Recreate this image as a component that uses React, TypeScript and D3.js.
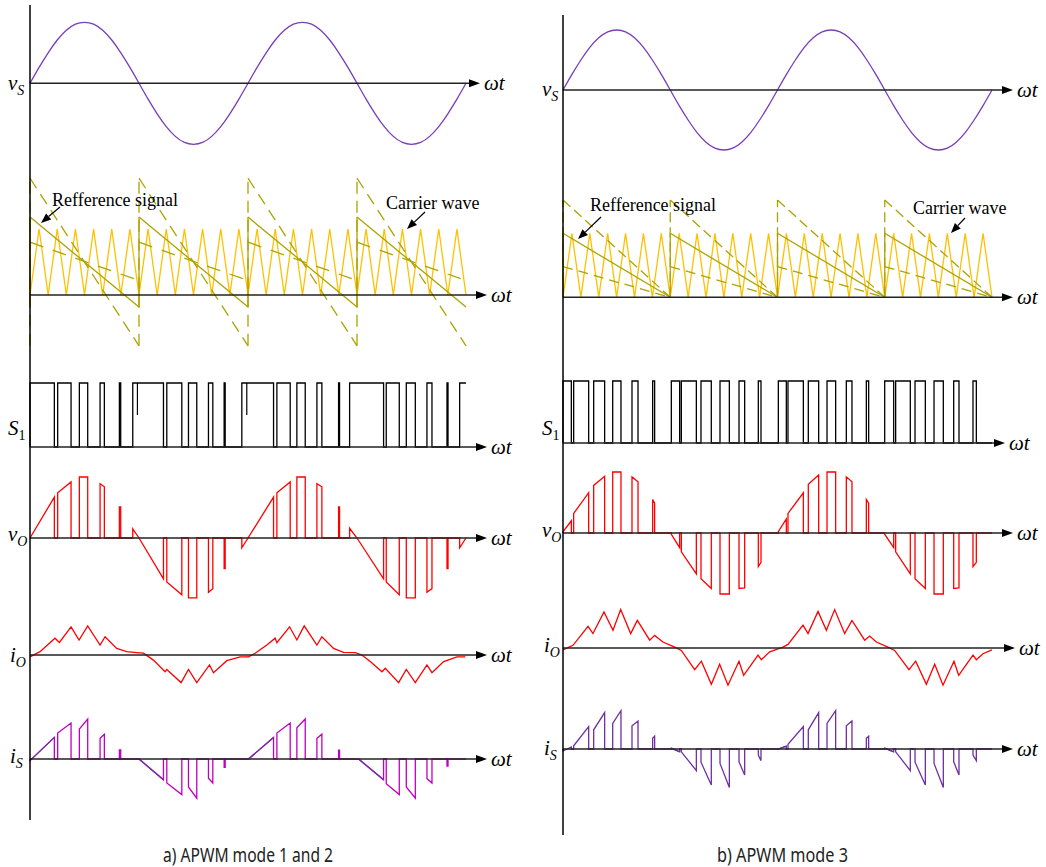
import React from "react";
import * as d3 from "d3";

const W = 1046;
const H = 867;
const T_END = 720;

// ωt in degrees (two fundamental cycles), sampled every 15°
const sampleDeg = [0, 15, 30, 45, 60, 75, 90, 105, 120, 135, 150, 165, 180, 195, 210, 225, 240, 255, 270, 285, 300, 315, 330, 345, 360, 375, 390, 405, 420, 435, 450, 465, 480, 495, 510, 525, 540, 555, 570, 585, 600, 615, 630, 645, 660, 675, 690, 705, 720];
const vsValues = [0, 0.26, 0.5, 0.71, 0.87, 0.97, 1, 0.97, 0.87, 0.71, 0.5, 0.26, 0, -0.26, -0.5, -0.71, -0.87, -0.97, -1, -0.97, -0.87, -0.71, -0.5, -0.26, 0, 0.26, 0.5, 0.71, 0.87, 0.97, 1, 0.97, 0.87, 0.71, 0.5, 0.26, 0, -0.26, -0.5, -0.71, -0.87, -0.97, -1, -0.97, -0.87, -0.71, -0.5, -0.26, 0];
const carrierValues = [0, 1, 0, 1, 0, 1, 0, 1, 0, 1, 0, 1, 0, 1, 0, 1, 0, 1, 0, 1, 0, 1, 0, 1, 0, 1, 0, 1, 0, 1, 0, 1, 0, 1, 0, 1, 0, 1, 0, 1, 0, 1, 0, 1, 0, 1, 0, 1, 0];

// reference ramps, one per half cycle
const halfStarts = [0, 180, 360, 540];
const leftRefStart = [1.77, 1.18, 0.8];
const leftRefEnd = [-0.77, -0.18, 0.22];
const rightRefStart = [1.52, 1.0, 0.48];
const rightRefEnd = [0, 0, 0];

// switching intervals of S1 [on, off] in degrees
const leftS1 = [[0, 40.2], [45.7, 67.8], [81.5, 95.3], [115.7, 122.8], [147.6, 149.8], [169.7, 220.4], [225.9, 250.7], [261.7, 275.4], [294.7, 301.9], [320.6, 322.3], [349.8, 402.2], [407.7, 429.7], [440.7, 454.5], [473.8, 482.0], [509.6, 511.2], [527.8, 583.9], [588.3, 609.8], [621.4, 636.3], [655.5, 663.8], [688.6, 690.3], [709.5, 720]];
const leftS1Notches = [177.4, 358];
const rightS1 = [[0, 14.0], [17.9, 43.1], [51.5, 69.9], [83.4, 97.3], [115.8, 125.9], [150.5, 153.8], [181.8, 195.8], [198.6, 223.8], [231.6, 248.9], [263.5, 279.2], [295.4, 304.9], [327.8, 332.3], [361.4, 374.8], [377.6, 403.4], [411.7, 429.1], [443.1, 457.6], [475.5, 485.0], [509.1, 513.0], [539.9, 555.0], [558.3, 582.9], [590.8, 608.1], [622.7, 638.3], [655.7, 664.6], [688.1, 693.7]];

// output voltage pulses [t0, t1, v0, v1]
const leftVo = [[0, 40.2, 0, 0.67], [45.7, 67.8, 0.74, 0.92], [81.5, 95.3, 1.0, 1.0], [115.7, 122.8, 0.89, 0.84], [147.6, 149.8, 0.51, 0.51], [169.7, 180, 0.15, 0], [180, 220.4, 0, -0.67], [225.9, 250.7, -0.72, -0.93], [261.7, 275.4, -0.98, -0.98], [294.7, 301.9, -0.89, -0.83], [320.6, 322.3, -0.5, -0.5], [349.8, 360, -0.16, 0], [360, 402.2, 0, 0.67], [407.7, 429.7, 0.74, 0.92], [440.7, 454.5, 1.0, 1.0], [473.8, 482.0, 0.89, 0.84], [509.6, 511.2, 0.51, 0.51], [527.8, 540, 0.16, 0], [540, 583.9, 0, -0.67], [588.3, 609.8, -0.72, -0.93], [621.4, 636.3, -0.98, -0.98], [655.5, 663.8, -0.89, -0.83], [688.6, 690.3, -0.5, -0.5], [709.5, 720, -0.16, 0]];
const rightVo = [[0, 14.0, 0.02, 0.2], [17.9, 43.1, 0.32, 0.66], [51.5, 69.9, 0.78, 0.93], [83.4, 97.3, 1.0, 1.0], [115.8, 125.9, 0.92, 0.84], [150.5, 153.8, 0.55, 0.49], [181.8, 195.8, -0.02, -0.24], [198.6, 223.8, -0.31, -0.67], [231.6, 248.9, -0.75, -0.91], [263.5, 279.2, -1.0, -1.0], [295.4, 304.9, -0.91, -0.9], [327.8, 332.3, -0.55, -0.48], [361.4, 374.8, 0.02, 0.23], [377.6, 403.4, 0.32, 0.66], [411.7, 429.1, 0.8, 0.95], [443.1, 457.6, 1.0, 1.0], [475.5, 485.0, 0.92, 0.84], [509.1, 513.0, 0.55, 0.49], [539.9, 555.0, -0.02, -0.24], [558.3, 582.9, -0.31, -0.67], [590.8, 608.1, -0.75, -0.91], [622.7, 638.3, -1.0, -1.0], [655.7, 664.6, -0.91, -0.9], [688.1, 693.7, -0.55, -0.48]];

// output current [deg, value]
const leftIo = [[0, -0.06], [16.5, 0.11], [41.3, 0.56], [48.5, 0.42], [67.8, 0.94], [81.0, 0.5], [95.3, 0.97], [115.7, 0.33], [124.0, 0.61], [143.2, 0.22], [159.8, 0.11], [176.3, 0.08], [187.3, 0.06], [203.8, -0.17], [223.1, -0.56], [225.9, -0.48], [249.5, -0.92], [261.7, -0.48], [275.4, -0.92], [296.4, -0.33], [303.0, -0.59], [325.0, -0.19], [347.1, -0.06], [360.8, -0.06], [371.8, 0.06], [391.1, 0.33], [404.9, 0.56], [407.7, 0.41], [428.6, 0.94], [440.7, 0.5], [452.8, 0.97], [473.8, 0.33], [482.0, 0.61], [501.3, 0.22], [517.8, 0.09], [537.1, 0.08], [548.1, 0], [561.9, -0.22], [581.2, -0.56], [586.7, -0.44], [608.7, -0.92], [621.4, -0.48], [636.3, -0.92], [655.5, -0.33], [663.8, -0.59], [683.1, -0.22], [705.1, -0.06], [718.9, -0.06]];
const rightIo = [[0, -0.06], [16.8, 0.09], [42.0, 0.72], [50.3, 0.48], [68.8, 1.2], [83.9, 0.59], [96.8, 1.28], [113.6, 0.48], [124.8, 0.92], [145.5, 0.26], [153.8, 0.42], [167.8, 0.2], [187.4, 0.03], [198.6, -0.08], [221.0, -0.72], [232.2, -0.44], [249.0, -1.21], [262.9, -0.54], [276.9, -1.24], [295.4, -0.44], [303.2, -0.91], [327.3, -0.24], [332.9, -0.39], [346.9, -0.13], [369.2, 0.03], [377.6, 0.12], [402.8, 0.76], [411.2, 0.48], [428.0, 1.22], [442.0, 0.59], [455.9, 1.28], [472.7, 0.48], [485.0, 0.92], [506.3, 0.26], [514.7, 0.4], [525.9, 0.2], [545.5, 0.03], [556.6, -0.08], [580.7, -0.72], [591.9, -0.44], [609.8, -1.21], [623.8, -0.54], [637.8, -1.24], [656.2, -0.44], [664.1, -0.91], [688.1, -0.24], [693.7, -0.39], [704.9, -0.19], [720, -0.06]];

// source current pulses [t0, t1, v0, v1]
const leftIs = [[0, 40.2, -0.04, 0.54], [45.7, 67.8, 0.65, 0.9], [81.5, 95.3, 0.75, 1.0], [115.7, 122.8, 0.52, 0.62], [147.6, 149.8, 0.23, 0.23], [180, 220.4, 0, -0.52], [225.9, 250.7, -0.6, -0.89], [261.7, 275.4, -0.7, -0.98], [294.7, 301.9, -0.48, -0.6], [320.6, 322.3, -0.21, -0.21], [360.8, 402.2, 0, 0.54], [407.7, 429.7, 0.65, 0.9], [440.7, 454.5, 0.78, 1.0], [473.8, 482.0, 0.52, 0.62], [509.6, 511.2, 0.22, 0.22], [542.6, 583.9, 0, -0.52], [588.3, 609.8, -0.62, -0.89], [621.4, 636.3, -0.7, -0.98], [655.5, 663.8, -0.49, -0.6], [688.6, 690.3, -0.18, -0.18]];
const rightIs = [[0, 14.0, -0.05, 0.05], [17.9, 43.1, 0.08, 0.56], [51.5, 69.9, 0.48, 0.91], [83.4, 97.3, 0.64, 0.96], [115.8, 125.9, 0.58, 0.7], [150.5, 153.8, 0.27, 0.32], [181.8, 195.8, 0.02, -0.07], [198.6, 223.8, -0.07, -0.54], [231.6, 248.9, -0.33, -0.9], [263.5, 279.2, -0.36, -0.96], [295.4, 304.9, -0.32, -0.65], [327.8, 332.3, -0.15, -0.29], [361.4, 374.8, 0, 0.07], [377.6, 403.4, 0.12, 0.56], [411.7, 429.1, 0.48, 0.91], [443.1, 457.6, 0.64, 0.96], [475.5, 485.0, 0.58, 0.7], [509.1, 513.0, 0.27, 0.32], [539.9, 555.0, 0.02, -0.07], [558.3, 582.9, -0.07, -0.54], [590.8, 608.1, -0.33, -0.9], [622.7, 638.3, -0.36, -0.96], [655.7, 664.6, -0.32, -0.65], [688.1, 693.7, -0.15, -0.29]];

const serif = "'Liberation Serif', 'Times New Roman', serif";

function pulsePoints(pulses, end = T_END) {
  const pts = [[0, 0]];
  pulses.forEach(([t0, t1, v0, v1]) => {
    pts.push([t0, 0], [t0, v0], [t1, v1]);
    if (t1 < end) pts.push([t1, 0]);
  });
  const last = pulses[pulses.length - 1];
  if (last[1] < end) pts.push([end, 0]);
  return pts;
}

const leftCfg = {
  x0: 30, x1: 466, axisTop: 5, axisBottom: 820, labelX: 8,
  rows: {
    vs: { axis: 83.3, r: 61, tip: 480, lab: 7 },
    car: { axis: 295, r: 66, tip: 487, lab: 0 },
    s1: { axis: 447, r: 64, tip: 487, lab: -12 },
    vo: { axis: 538, r: 61, tip: 487, lab: 3 },
    io: { axis: 655, r: 30, tip: 487, lab: 7 },
    is: { axis: 759, r: 40, tip: 487, lab: 4 },
  },
  refStart: leftRefStart, refEnd: leftRefEnd,
  s1: leftS1, notches: leftS1Notches, vo: leftVo, io: leftIo, is: leftIs,
  isColor: "#c000c0", rampColor: "#7030a0",
  caption: "a) APWM mode 1 and 2", captionX: 163, captionW: 170,
  refDash: ["12 7", null, "14 10"],
  ann: { ref: [52, 206, 60, 207, 41, 223], car: [386, 209, 425, 212, 407, 229] },
};

const rightCfg = {
  x0: 563, x1: 992, axisTop: 15, axisBottom: 835, labelX: 542,
  rows: {
    vs: { axis: 90, r: 60, tip: 1013, lab: 6 },
    car: { axis: 297.3, r: 64, tip: 1013, lab: 0 },
    s1: { axis: 443, r: 62, tip: 1005, lab: -8 },
    vo: { axis: 533, r: 61, tip: 1013, lab: 4 },
    io: { axis: 648, r: 30, tip: 1015, lab: 4 },
    is: { axis: 749, r: 40, tip: 1013, lab: 6 },
  },
  refStart: rightRefStart, refEnd: rightRefEnd,
  s1: rightS1, notches: [], vo: rightVo, io: rightIo, is: rightIs,
  isColor: "#7030a0", rampColor: "#7030a0",
  caption: "b) APWM mode 3", captionX: 717, captionW: 131,
  refDash: ["10 5", null, "10 6"],
  ann: { ref: [590, 211, 601, 217, 578, 239], car: [913, 214, 965, 218, 951, 233] },
};

function Label({ x, y, main, sub, subItalic = true }) {
  return (
    <text x={x} y={y} fontFamily={serif} fontSize={21} fontStyle="italic" fill="#000">
      {main}
      <tspan dy={5} fontSize={14} fontStyle={subItalic ? "italic" : "normal"}>{sub}</tspan>
    </text>
  );
}

function Arrow({ x1, y1, x2, y2 }) {
  const a = Math.atan2(y2 - y1, x2 - x1);
  const L = 10, w = 4;
  const bx = x2 - L * Math.cos(a), by = y2 - L * Math.sin(a);
  const p = `M${x2},${y2}L${bx + w * Math.sin(a)},${by - w * Math.cos(a)}L${bx - w * Math.sin(a)},${by + w * Math.cos(a)}Z`;
  return (
    <g>
      <line x1={x1} y1={y1} x2={bx} y2={by} stroke="#000" strokeWidth={1.2} />
      <path d={p} fill="#000" />
    </g>
  );
}

function Panel({ cfg }) {
  const x = d3.scaleLinear().domain([0, T_END]).range([cfg.x0, cfg.x1]);
  const ys = {};
  Object.entries(cfg.rows).forEach(([k, r]) => {
    ys[k] = d3.scaleLinear().domain([-1, 1]).range([r.axis + r.r, r.axis - r.r]);
  });
  const lineFor = (y, curve = d3.curveLinear) => d3.line().x((d) => x(d[0])).y((d) => y(d[1])).curve(curve);
  const carY = d3.scaleLinear().domain([0, 1]).range([cfg.rows.car.axis, cfg.rows.car.axis - cfg.rows.car.r]);

  const vsPts = sampleDeg.map((t, i) => [t, vsValues[i]]);
  const carPts = sampleDeg.map((t, i) => [t, carrierValues[i]]);
  const s1Pts = pulsePoints(cfg.s1.map(([a, b]) => [a, b, 1, 1]));
  const voPts = pulsePoints(cfg.vo);
  const isPts = pulsePoints(cfg.is);
  const isRamps = cfg.is.filter((p) => Math.abs(p[2]) < 0.05);
  const refColor = "#aca300";

  const axisRow = (k) => {
    const r = cfg.rows[k];
    return (
      <g key={"ax" + k}>
        <line x1={cfg.x0} x2={r.tip - 9} y1={r.axis} y2={r.axis} stroke="#222" strokeWidth={1.4} />
        <path d={`M${r.tip},${r.axis}L${r.tip - 11},${r.axis - 4}L${r.tip - 11},${r.axis + 4}Z`} fill="#000" />
        <text x={r.tip + 4} y={r.axis + 7} fontFamily={serif} fontSize={21} fontStyle="italic">ωt</text>
      </g>
    );
  };

  const R = cfg.rows;
  return (
    <g>
      {/* vs */}
      <path d={lineFor(ys.vs, d3.curveNatural)(vsPts)} fill="none" stroke="#7a3db8" strokeWidth={1.3} />

      {/* carrier and reference signals */}
      <path d={lineFor(carY)(carPts)} fill="none" stroke="#ffc000" strokeWidth={1.3} />
      {halfStarts.map((t0) => (
        <g key={"ref" + t0}>
          <line x1={x(t0)} x2={x(t0)} y1={carY(cfg.refEnd[0])} y2={carY(cfg.refStart[0])} stroke={refColor} strokeWidth={1.3} strokeDasharray={cfg.refDash[0]} />
          <line x1={x(t0)} x2={x(t0)} y1={carY(cfg.refEnd[1])} y2={carY(cfg.refStart[1])} stroke={refColor} strokeWidth={1.3} />
          {cfg.refStart.map((v, i) => (
            <line key={i} x1={x(t0)} y1={carY(v)} x2={x(t0 + 180)} y2={carY(cfg.refEnd[i])} stroke={refColor} strokeWidth={1.3} strokeDasharray={cfg.refDash[i] || undefined} />
          ))}
        </g>
      ))}

      {/* S1 */}
      <path d={lineFor(ys.s1)(s1Pts)} fill="none" stroke="#000" strokeWidth={1.3} />
      {cfg.notches.map((t) => (
        <line key={"n" + t} x1={x(t)} x2={x(t)} y1={ys.s1(1)} y2={ys.s1(0.5)} stroke="#000" strokeWidth={1.2} />
      ))}

      {/* vo, io */}
      <path d={lineFor(ys.vo)(voPts)} fill="none" stroke="#ff0000" strokeWidth={1.3} />
      <path d={lineFor(ys.io)(cfg.io)} fill="none" stroke="#ff0000" strokeWidth={1.3} />

      {/* is */}
      <path d={lineFor(ys.is)(isPts)} fill="none" stroke={cfg.isColor} strokeWidth={1.3} />
      {isRamps.map((p, i) => (
        <path key={"r" + i} d={lineFor(ys.is)([[p[0], p[2]], [p[1], p[3]]])} fill="none" stroke={cfg.rampColor} strokeWidth={1.3} />
      ))}

      {/* axes */}
      {["vs", "car", "s1", "vo", "io", "is"].map(axisRow)}
      <line x1={cfg.x0} x2={cfg.x0} y1={cfg.axisTop} y2={cfg.axisBottom} stroke="#000" strokeWidth={1.5} />

      <Label x={cfg.labelX} y={R.vs.axis + R.vs.lab} main="v" sub="S" />
      <Label x={cfg.labelX} y={R.s1.axis + R.s1.lab} main="S" sub="1" subItalic={false} />
      <Label x={cfg.labelX} y={R.vo.axis + R.vo.lab} main="v" sub="O" />
      <Label x={cfg.labelX + 2} y={R.io.axis + R.io.lab} main="i" sub="O" />
      <Label x={cfg.labelX + 2} y={R.is.axis + R.is.lab} main="i" sub="S" />

      {/* annotations */}
      <text x={cfg.ann.ref[0]} y={cfg.ann.ref[1]} fontFamily={serif} fontSize={18}>Refference signal</text>
      <Arrow x1={cfg.ann.ref[2]} y1={cfg.ann.ref[3]} x2={cfg.ann.ref[4]} y2={cfg.ann.ref[5]} />
      <text x={cfg.ann.car[0]} y={cfg.ann.car[1]} fontFamily={serif} fontSize={18}>Carrier wave</text>
      <Arrow x1={cfg.ann.car[2]} y1={cfg.ann.car[3]} x2={cfg.ann.car[4]} y2={cfg.ann.car[5]} />

      <text x={cfg.captionX} y={862} textLength={cfg.captionW} lengthAdjust="spacingAndGlyphs" fontFamily="'Noto Sans', sans-serif" fontSize={20} fill="#222">{cfg.caption}</text>
    </g>
  );
}

export default function App() {
  return (
    <svg width={W} height={H} style={{ position: "absolute", left: 0, top: 0 }}>
      <rect width={W} height={H} fill="#fff" />
      <Panel cfg={leftCfg} />
      <Panel cfg={rightCfg} />
    </svg>
  );
}
